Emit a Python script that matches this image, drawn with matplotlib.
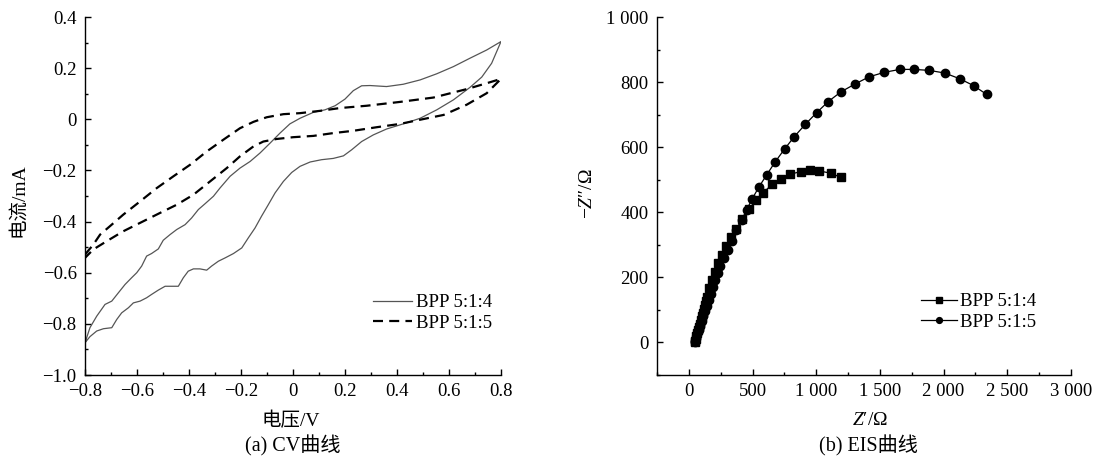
import numpy as np
import matplotlib
matplotlib.use("Agg")
import matplotlib.pyplot as plt
from matplotlib.ticker import MultipleLocator, FuncFormatter

plt.rcParams['font.family'] = ['Liberation Serif', 'Noto Sans CJK SC']
plt.rcParams['mathtext.fontset'] = 'custom'
plt.rcParams['mathtext.rm'] = 'Liberation Serif'
plt.rcParams['mathtext.it'] = 'Liberation Serif:italic'
plt.rcParams['font.size'] = 13.5

# ---------------- CV data (a) ----------------
# BPP 5:1:4, forward sweep then reverse sweep
cv514_v = [-0.800, -0.781, -0.755, -0.723, -0.697, -0.672, -0.646, -0.621, -0.601, -0.582,
           -0.563, -0.544, -0.518, -0.499, -0.473, -0.447, -0.415, -0.390, -0.364, -0.338,
           -0.306, -0.281, -0.242, -0.204, -0.165, -0.127, -0.088, -0.050, -0.012, 0.027,
           0.078, 0.123, 0.162, 0.200, 0.232, 0.264, 0.296, 0.360, 0.424, 0.489,
           0.553, 0.617, 0.681, 0.745, 0.800,
           0.764, 0.726, 0.681, 0.617, 0.553, 0.489, 0.424, 0.360, 0.309, 0.264,
           0.226, 0.194, 0.155, 0.110, 0.066, 0.027, -0.005, -0.037, -0.069, -0.095,
           -0.121, -0.146, -0.172, -0.197, -0.229, -0.261, -0.287, -0.313, -0.332, -0.358,
           -0.383, -0.403, -0.422, -0.441, -0.467, -0.492, -0.518, -0.544, -0.563, -0.588,
           -0.614, -0.633, -0.659, -0.678, -0.697, -0.729, -0.755, -0.781, -0.800]
cv514_i = [-0.874, -0.815, -0.770, -0.724, -0.711, -0.679, -0.646, -0.620, -0.600, -0.574,
           -0.535, -0.525, -0.507, -0.473, -0.451, -0.431, -0.412, -0.386, -0.353, -0.330,
           -0.301, -0.269, -0.223, -0.191, -0.165, -0.132, -0.093, -0.054, -0.018, 0.004,
           0.027, 0.037, 0.053, 0.079, 0.112, 0.131, 0.132, 0.128, 0.137, 0.154,
           0.178, 0.206, 0.239, 0.271, 0.304,
           0.219, 0.165, 0.125, 0.076, 0.037, 0.004, -0.018, -0.038, -0.061, -0.087,
           -0.119, -0.143, -0.153, -0.158, -0.167, -0.184, -0.208, -0.243, -0.288, -0.334,
           -0.379, -0.425, -0.464, -0.503, -0.525, -0.542, -0.555, -0.574, -0.590, -0.585,
           -0.585, -0.594, -0.620, -0.653, -0.653, -0.653, -0.668, -0.685, -0.698, -0.711,
           -0.718, -0.737, -0.757, -0.783, -0.815, -0.819, -0.828, -0.850, -0.874]

# BPP 5:1:5
cv515_v = [-0.800, -0.768, -0.742, -0.704, -0.653, -0.588, -0.524, -0.460, -0.396, -0.332,
           -0.268, -0.204, -0.152, -0.101, -0.037, 0.027, 0.104, 0.181, 0.284, 0.412,
           0.540, 0.668, 0.745, 0.800,
           0.745, 0.668, 0.579, 0.502, 0.412, 0.322, 0.232, 0.155, 0.078, 0.001,
           -0.063, -0.114, -0.152, -0.204, -0.255, -0.319, -0.383, -0.447, -0.511, -0.588,
           -0.653, -0.717, -0.768, -0.800]
cv515_i = [-0.529, -0.490, -0.451, -0.418, -0.373, -0.321, -0.269, -0.223, -0.178, -0.126,
           -0.080, -0.035, -0.010, 0.008, 0.020, 0.024, 0.033, 0.044, 0.053, 0.068,
           0.085, 0.118, 0.141, 0.158,
           0.102, 0.057, 0.017, 0.001, -0.018, -0.031, -0.045, -0.054, -0.065, -0.070,
           -0.077, -0.087, -0.106, -0.145, -0.191, -0.243, -0.295, -0.334, -0.366, -0.405,
           -0.438, -0.477, -0.509, -0.542]

cv_xticks = [-0.8, -0.6, -0.4, -0.2, 0, 0.2, 0.4, 0.6, 0.8]
cv_xlabels = ['\u22120.8', '\u22120.6', '\u22120.4', '\u22120.2', '0', '0.2', '0.4', '0.6', '0.8']
cv_yticks = [-1.0, -0.8, -0.6, -0.4, -0.2, 0, 0.2, 0.4]
cv_ylabels = ['\u22121.0', '\u22120.8', '\u22120.6', '\u22120.4', '\u22120.2', '0', '0.2', '0.4']

# ---------------- EIS data (b) ----------------
eis514_zre = [45, 48, 53, 59, 65, 72, 79, 86, 93, 101, 109, 117, 126, 135,
              144, 162, 181, 202, 228, 257, 291, 330, 369, 421, 474, 531, 586,
              652, 723, 798, 877, 955, 1024, 1115, 1194]
eis514_zim = [0, 5, 12, 20, 29, 38, 48, 58, 69, 80, 91, 103, 115, 128,
              141, 167, 192, 218, 243, 269, 297, 323, 348, 379, 410, 438, 460,
              486, 502, 517, 525, 530, 527, 520, 507]

eis515_zre = [45, 50, 58, 67, 78, 89, 101, 114, 128, 142, 158, 174, 191, 209, 228, 248,
              275, 304, 338, 374, 414, 453, 497, 552, 613, 678, 751, 827, 914, 1003,
              1094, 1194, 1304, 1414, 1534, 1657, 1767, 1885, 2008, 2128, 2236, 2338]
eis515_zim = [0, 6, 15, 26, 38, 51, 65, 80, 96, 113, 131, 150, 170, 191, 213, 236,
              259, 284, 313, 344, 376, 407, 441, 479, 516, 555, 594, 632, 670, 706,
              740, 770, 794, 816, 830, 839, 839, 836, 828, 810, 789, 762]

fig = plt.figure(figsize=(11.05, 4.67), dpi=100)
ax1 = fig.add_axes([85 / 1105, 1 - 375 / 467, 416 / 1105, 358 / 467])
ax2 = fig.add_axes([657 / 1105, 1 - 375 / 467, 414 / 1105, 358 / 467])

for ax in (ax1, ax2):
    ax.spines['top'].set_visible(False)
    ax.spines['right'].set_visible(False)
    for s in ('left', 'bottom'):
        ax.spines[s].set_linewidth(1.0)
    ax.tick_params(which='major', direction='in', length=4, width=1.0, labelsize=13.5, pad=6)
    ax.tick_params(which='minor', direction='in', length=2.5, width=1.0)

# ---- (a) CV ----
ax1.plot(cv514_v, cv514_i, color='#555555', lw=0.9, label='BPP 5:1:4')
ax1.plot(cv515_v, cv515_i, color='black', lw=1.6, dashes=(4.5, 2.8), label='BPP 5:1:5')
ax1.set_xlim(-0.8, 0.8)
ax1.set_ylim(-1.0, 0.4)
ax1.set_xticks(cv_xticks)
ax1.set_xticklabels(cv_xlabels)
ax1.set_yticks(cv_yticks)
ax1.set_yticklabels(cv_ylabels)
ax1.xaxis.set_minor_locator(MultipleLocator(0.1))
ax1.yaxis.set_minor_locator(MultipleLocator(0.1))
ax1.set_xlabel('电压/V', fontsize=14)
ax1.set_ylabel('电流/mA', fontsize=14)
ax1.xaxis.set_label_coords(0.495, -0.128)
ax1.yaxis.set_label_coords(-0.161, 0.489)
ax1.xaxis.label.set_va('center')
ax1.yaxis.label.set_va('center')
ax1.legend(loc='center left', bbox_to_anchor=(373 / 1105, 1 - 313 / 467),
           bbox_transform=fig.transFigure, frameon=False, fontsize=13.5,
           handlelength=2.1, handletextpad=0.2, borderpad=0, labelspacing=0.2,
           borderaxespad=0)

# ---- (b) EIS ----
ax2.plot(eis514_zre, eis514_zim, color='black', lw=0.9, marker='s', ms=5.6,
         label='BPP 5:1:4')
ax2.plot(eis515_zre, eis515_zim, color='black', lw=0.9, marker='o', ms=6,
         label='BPP 5:1:5')
ax2.set_xlim(-250, 3000)
ax2.set_ylim(-100, 1000)
ax2.xaxis.set_major_locator(MultipleLocator(500))
ax2.xaxis.set_minor_locator(MultipleLocator(250))
ax2.yaxis.set_major_locator(MultipleLocator(200))
ax2.yaxis.set_minor_locator(MultipleLocator(100))
sep = FuncFormatter(lambda v, p: '{:,}'.format(int(round(v))).replace(',', ' '))
ax2.xaxis.set_major_formatter(sep)
ax2.yaxis.set_major_formatter(sep)
ax2.set_xlabel('$Z$\u2032/\u03a9', fontsize=14)
ax2.set_ylabel('\u2212$Z$\u2033/\u03a9', fontsize=14)
ax2.xaxis.set_label_coords(0.514, -0.128)
ax2.yaxis.set_label_coords(-0.169, 0.508)
ax2.xaxis.label.set_va('center')
ax2.yaxis.label.set_va('center')
ax2.legend(loc='center left', bbox_to_anchor=(921 / 1105, 1 - 312 / 467),
           bbox_transform=fig.transFigure, frameon=False, fontsize=13.5,
           handlelength=1.9, handletextpad=0.2, borderpad=0, labelspacing=0.2,
           borderaxespad=0, markerscale=0.7)

fig.text(293 / 1105, 1 - 446 / 467, '(a) CV曲线', ha='center', va='center', fontsize=14.5)
fig.text(868 / 1105, 1 - 446 / 467, '(b) EIS曲线', ha='center', va='center', fontsize=14.5)

fig.savefig('out.png', dpi=100)
